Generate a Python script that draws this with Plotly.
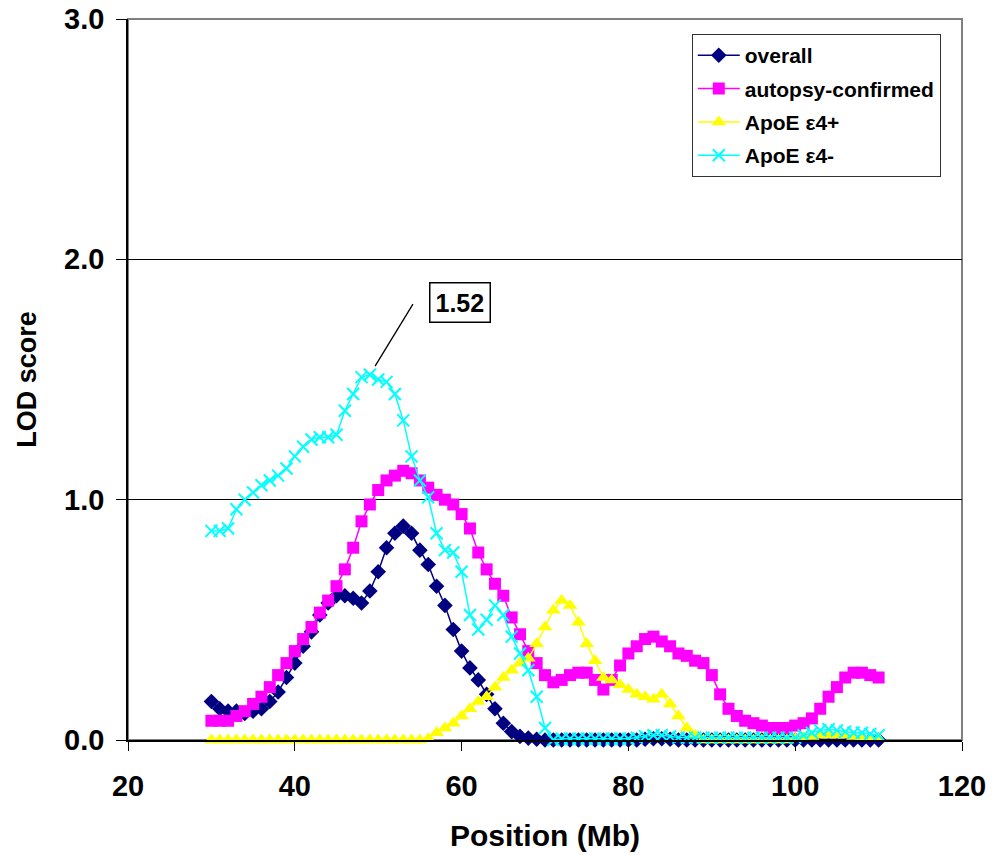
import plotly.graph_objects as go

# Position (Mb)
positions = list(range(30, 111))

overall = [0.16, 0.13, 0.12, 0.12, 0.11, 0.12, 0.13, 0.16, 0.20, 0.26,
           0.32, 0.39, 0.45, 0.52, 0.57, 0.60, 0.60, 0.59, 0.57, 0.62,
           0.70, 0.80, 0.86, 0.89, 0.86, 0.79, 0.73, 0.64, 0.56, 0.46,
           0.37, 0.30, 0.25, 0.19, 0.13, 0.07, 0.035, 0.015, 0.008, 0.003,
           0.0, 0.0, 0.0, 0.0, 0.0, 0.0, 0.0, 0.0, 0.0, 0.0,
           0.0, 0.0, 0.003, 0.005, 0.005, 0.003, 0.0, 0.0, 0.0, 0.0,
           0.0, 0.0, 0.0, 0.0, 0.0, 0.0, 0.0, 0.0, 0.0, 0.0,
           0.0, 0.0, 0.0, 0.0, 0.0, 0.0, 0.0, 0.0, 0.0, 0.0, 0.0]

autopsy = [0.08, 0.08, 0.08, 0.10, 0.12, 0.15, 0.18, 0.22, 0.27, 0.32,
           0.37, 0.42, 0.47, 0.53, 0.58, 0.64, 0.71, 0.80, 0.91, 0.98,
           1.04, 1.08, 1.10, 1.12, 1.11, 1.08, 1.05, 1.02, 1.00, 0.98,
           0.94, 0.88, 0.78, 0.71, 0.65, 0.60, 0.51, 0.44, 0.37, 0.32,
           0.27, 0.24, 0.25, 0.27, 0.28, 0.28, 0.25, 0.21, 0.25, 0.31,
           0.36, 0.39, 0.42, 0.43, 0.41, 0.39, 0.36, 0.35, 0.33, 0.32,
           0.27, 0.19, 0.13, 0.10, 0.08, 0.07, 0.06, 0.05, 0.05, 0.05,
           0.06, 0.07, 0.09, 0.13, 0.18, 0.22, 0.26, 0.28, 0.28, 0.27, 0.26]

apoe_pos = [0.0, 0.0, 0.0, 0.0, 0.0, 0.0, 0.0, 0.0, 0.0, 0.0,
            0.0, 0.0, 0.0, 0.0, 0.0, 0.0, 0.0, 0.0, 0.0, 0.0,
            0.0, 0.0, 0.0, 0.0, 0.0, 0.0, 0.005, 0.03, 0.05, 0.07,
            0.10, 0.13, 0.16, 0.18, 0.22, 0.26, 0.29, 0.32, 0.34, 0.40,
            0.47, 0.54, 0.58, 0.56, 0.49, 0.40, 0.33, 0.26, 0.25, 0.23,
            0.21, 0.19, 0.18, 0.17, 0.19, 0.15, 0.10, 0.05, 0.02, 0.0,
            0.0, 0.0, 0.0, 0.0, 0.0, 0.0, 0.0, 0.0, 0.0, 0.0,
            0.005, 0.01, 0.015, 0.02, 0.02, 0.02, 0.02, 0.015, 0.01, 0.005, 0.005]

apoe_neg = [0.87, 0.87, 0.88, 0.96, 1.00, 1.03, 1.06, 1.08, 1.10, 1.13,
            1.18, 1.22, 1.25, 1.26, 1.26, 1.27, 1.37, 1.44, 1.51, 1.52,
            1.50, 1.49, 1.44, 1.33, 1.18, 1.08, 1.01, 0.86, 0.79, 0.78,
            0.70, 0.52, 0.46, 0.50, 0.56, 0.52, 0.43, 0.36, 0.29, 0.18,
            0.05, 0.0, 0.005, 0.005, 0.005, 0.005, 0.005, 0.005, 0.005, 0.005,
            0.005, 0.01, 0.015, 0.02, 0.02, 0.015, 0.01, 0.01, 0.01, 0.01,
            0.01, 0.01, 0.01, 0.01, 0.01, 0.01, 0.01, 0.01, 0.01, 0.01,
            0.01, 0.02, 0.03, 0.04, 0.045, 0.04, 0.035, 0.03, 0.03, 0.025, 0.02]

series_names = ["overall", "autopsy-confirmed", "ApoE ε4+", "ApoE ε4-"]
y_ticks = [0, 1, 2, 3]
x_ticks = [20, 40, 60, 80, 100, 120]

peak_x = 49
peak_y = 1.52
peak_label = "1.52"

FONT = "Liberation Sans, Arial, sans-serif"

fig = go.Figure()
styles = [
    dict(color="#000080", symbol="diamond", size=12, lw=1.5),
    dict(color="#FF00FF", symbol="square", size=12, lw=1.5),
    dict(color="#FFFF00", symbol="triangle-up", size=13, lw=1.5),
    dict(color="#00FFFF", symbol="x-thin", size=12, lw=1.5),
]
for name, ys, st in zip(series_names, [overall, autopsy, apoe_pos, apoe_neg], styles):
    marker = dict(color=st["color"], symbol=st["symbol"], size=st["size"])
    if st["symbol"] == "x-thin":
        marker["line"] = dict(color=st["color"], width=2)
    else:
        marker["line"] = dict(color=st["color"], width=0)
    fig.add_trace(go.Scatter(
        x=positions, y=ys, mode="lines+markers", name="<b>%s</b>" % name,
        line=dict(color=st["color"], width=st["lw"]),
        marker=marker, cliponaxis=False, legendgroup=name,
    ))

# gray plot-area frame (top/right)
fig.add_shape(type="rect", xref="paper", yref="paper", x0=0, x1=1, y0=0, y1=1,
              line=dict(color="#808080", width=2), layer="below")

# annotation leader line + boxed label
fig.add_annotation(x=peak_x, y=peak_y, xref="x", yref="y", text="",
                   showarrow=True, arrowhead=0, arrowwidth=1.3, arrowcolor="black",
                   ax=44, ay=-72, standoff=10)
fig.add_annotation(x=peak_x, y=peak_y, xref="x", yref="y", text="<b>%s</b>" % peak_label,
                   showarrow=False, xshift=90, yshift=72,
                   font=dict(family=FONT, size=25, color="black"),
                   bordercolor="black", borderwidth=1.5, borderpad=5, bgcolor="white")

fig.update_layout(
    width=993, height=855,
    margin=dict(l=128, r=31, t=19, b=115),
    plot_bgcolor="white", paper_bgcolor="white",
    font=dict(family=FONT, color="black"),
    showlegend=True,
    legend=dict(x=0.676, y=0.979, xanchor="left", yanchor="top",
                bgcolor="white", bordercolor="#333333", borderwidth=1,
                font=dict(family=FONT, size=21, color="black"),
                itemwidth=42,
                traceorder="grouped", tracegroupgap=3),
    xaxis=dict(range=[20, 120], tickvals=x_ticks, ticktext=["<b>%d</b>" % v for v in x_ticks],
               ticks="outside", ticklen=9, tickwidth=1.3, tickcolor="black",
               showline=True, linecolor="black", linewidth=1.5,
               showgrid=False, zeroline=False, automargin=False,
               ticklabelstandoff=10,
               tickfont=dict(family=FONT, size=29, color="black"),
               title=dict(text="<b>Position (Mb)</b>", font=dict(family=FONT, size=30), standoff=24)),
    yaxis=dict(range=[0, 3], tickvals=y_ticks, ticktext=["<b>%.1f</b>" % v for v in y_ticks],
               ticks="outside", ticklen=10, tickwidth=1.3, tickcolor="black",
               showline=True, linecolor="black", linewidth=1.5,
               showgrid=True, gridcolor="black", gridwidth=1, zeroline=False, automargin=False,
               ticklabelstandoff=6,
               tickfont=dict(family=FONT, size=29, color="black"),
               title=dict(text="<b>LOD score</b>", font=dict(family=FONT, size=27), standoff=20)),
)

fig.write_html("out.html")
